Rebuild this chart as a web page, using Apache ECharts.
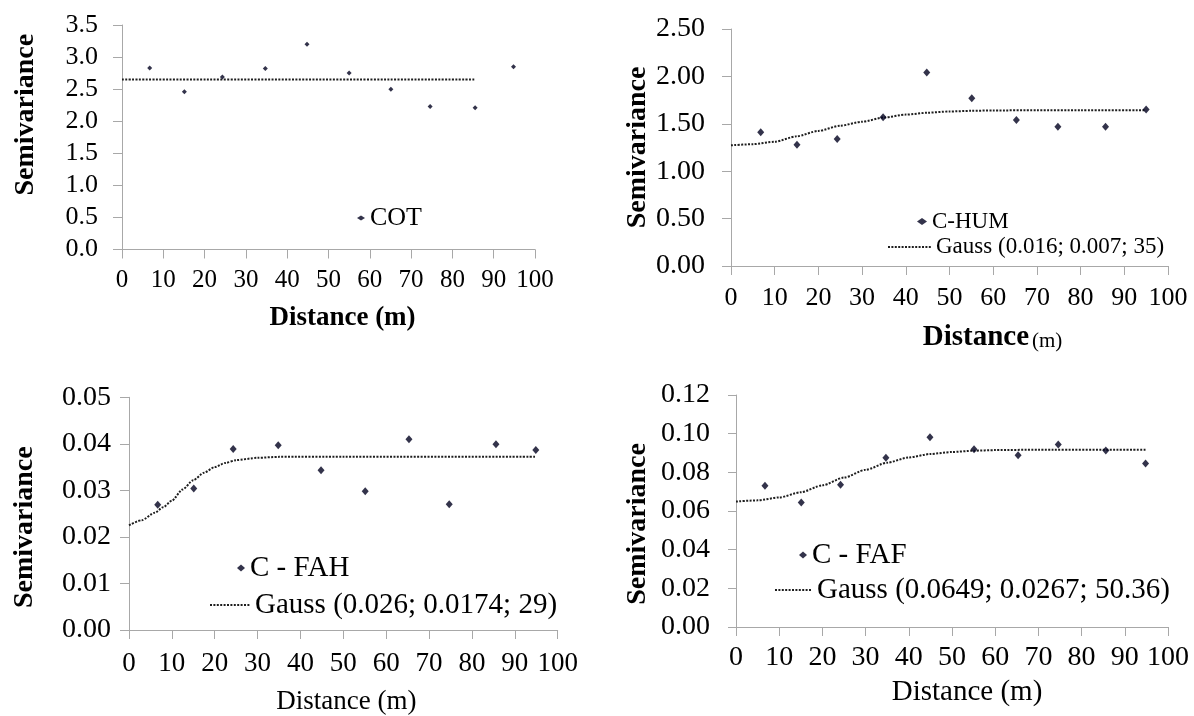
<!DOCTYPE html>
<html><head><meta charset="utf-8">
<script src="https://cdn.jsdelivr.net/npm/echarts@6/dist/echarts.min.js"></script>
<style>html,body{margin:0;padding:0;background:#fff}#c{width:1194px;height:716px}</style>
</head><body><div id="c"></div>
<script>
// ---- data ----
const cotX = [6.7, 15.1, 24.3, 34.7, 44.8, 55.0, 65.1, 74.6, 85.5, 94.8];
const cotY = [2.83, 2.46, 2.69, 2.82, 3.20, 2.75, 2.50, 2.23, 2.21, 2.85];
const cotModelX = [0, 85.3];
const cotModelY = [2.65, 2.65];

const humX = [6.8, 15.1, 24.3, 34.8, 44.8, 55.1, 65.3, 74.8, 85.7, 95.0];
const humY = [1.41, 1.28, 1.34, 1.57, 2.04, 1.77, 1.54, 1.47, 1.47, 1.65];
const humModelX = [0, 5, 10, 15, 20, 25, 30, 35, 40, 45, 50, 55, 60, 70, 80, 95];
const humModelY = [1.273, 1.285, 1.31, 1.368, 1.425, 1.48, 1.522, 1.566, 1.597, 1.617, 1.63, 1.637, 1.641, 1.643, 1.643, 1.643];

const fahX = [6.7, 15.1, 24.3, 34.8, 44.8, 55.1, 65.3, 74.7, 85.6, 94.9];
const fahY = [0.0269, 0.0304, 0.0389, 0.0397, 0.0343, 0.0298, 0.0410, 0.0270, 0.0399, 0.0387];
const fahModelX = [0, 3, 6, 8, 10, 12.5, 15, 17.5, 20, 22.5, 25, 30, 35, 50, 95];
const fahModelY = [0.0225, 0.0236, 0.0252, 0.0264, 0.0278, 0.0302, 0.0322, 0.0338, 0.0350, 0.0359, 0.0365, 0.0370, 0.0372, 0.0372, 0.0372];

const fafX = [6.7, 15.1, 24.2, 34.7, 44.9, 55.1, 65.3, 74.6, 85.6, 94.8];
const fafY = [0.0730, 0.0644, 0.0736, 0.0875, 0.0982, 0.0920, 0.0888, 0.0944, 0.0913, 0.0846];
const fafModelX = [0, 5, 10, 15, 20, 25, 30, 35, 40, 45, 50, 55, 60, 70, 95];
const fafModelY = [0.0649, 0.0655, 0.0670, 0.0697, 0.0733, 0.0773, 0.0813, 0.0850, 0.0877, 0.0895, 0.0905, 0.0912, 0.0915, 0.0917, 0.0917];

const xTickMin = 0, xTickMax = 100, xTickStep = 10;
const yTicks = [ // min, max, step, decimals
  [0, 3.5, 0.5, 1],
  [0, 2.5, 0.5, 2],
  [0, 0.05, 0.01, 2],
  [0, 0.12, 0.02, 2]
];
const scatterNames = ['COT', 'C-HUM', 'C - FAH', 'C - FAF'];
const modelNames = ['Model COT', 'Gauss (0.016; 0.007; 35)', 'Gauss (0.026; 0.0174; 29)', 'Gauss (0.0649; 0.0267; 50.36)'];

// ---- build chart ----
const FONT = '"Liberation Serif","Times New Roman",serif';
const AXIS_COLOR = '#a8a8a8';
const MARK = '#00001e';
const LINE = '#1e1e1e';
const zip = (a, b) => a.map((v, i) => [v, b[i]]);

const grids = [
  {left: 122, top: 25, width: 413, height: 224.5},
  {left: 731, top: 29, width: 437, height: 237},
  {left: 129, top: 397.3, width: 428.7, height: 234},
  {left: 736, top: 395, width: 432, height: 232}
];
const xLab = [{size: 25, margin: 18}, {size: 26, margin: 19}, {size: 27, margin: 20}, {size: 28, margin: 17}];
const yLab = [{size: 26, margin: 24, tick: 9}, {size: 28, margin: 26, tick: 9}, {size: 28, margin: 18, tick: 9}, {size: 28, margin: 26, tick: 8}];
const yNames = [
  {gap: 82, pad: [0, 0, 0, 45]},
  {gap: 79, pad: [0, 0, 0, 0]},
  {gap: 90, pad: [0, 27, 0, 0]},
  {gap: 84, pad: [0, 26, 0, 0]}
];
const xNames = [
  {name: 'Distance (m)', gap: 55, style: {fontSize: 27, fontWeight: 'bold', padding: [0, 0, 0, 28]}},
  {name: '{b|Distance}{r|(m)}', gap: 57, style: {padding: [0, 0, 0, 86], rich: {
    b: {fontSize: 29, fontWeight: 'bold', fontFamily: FONT, color: '#000'},
    r: {fontSize: 21, fontFamily: FONT, color: '#000', padding: [0, 0, 0, 3], verticalAlign: 'bottom'}}}},
  {name: 'Distance (m)', gap: 58, style: {fontSize: 27, padding: [0, 0, 0, 6]}},
  {name: 'Distance (m)', gap: 51, style: {fontSize: 29, padding: [0, 0, 0, 30]}}
];

const xAxis = grids.map((g, i) => ({
  type: 'value', gridIndex: i, min: xTickMin, max: xTickMax, interval: xTickStep,
  name: xNames[i].name, nameLocation: 'middle', nameGap: xNames[i].gap,
  nameTextStyle: Object.assign({fontFamily: FONT, color: '#000'}, xNames[i].style),
  axisLine: {show: true, lineStyle: {color: AXIS_COLOR, width: 1}},
  axisTick: {show: true, length: 9, lineStyle: {color: AXIS_COLOR}},
  axisLabel: {fontFamily: FONT, fontSize: xLab[i].size, color: '#000', margin: xLab[i].margin},
  splitLine: {show: false}
}));
const yAxis = grids.map((g, i) => ({
  type: 'value', gridIndex: i, min: yTicks[i][0], max: yTicks[i][1], interval: yTicks[i][2],
  name: 'Semivariance', nameLocation: 'middle', nameGap: yNames[i].gap,
  nameTextStyle: {fontFamily: FONT, fontSize: 28, fontWeight: 'bold', color: '#000', padding: yNames[i].pad},
  axisLine: {show: true, lineStyle: {color: AXIS_COLOR, width: 1}},
  axisTick: {show: true, length: yLab[i].tick, lineStyle: {color: AXIS_COLOR}},
  axisLabel: {fontFamily: FONT, fontSize: yLab[i].size, color: '#000', margin: yLab[i].margin,
    formatter: v => Number(v).toFixed(yTicks[i][3])},
  splitLine: {show: false}
}));

const pts = [[cotX, cotY], [humX, humY], [fahX, fahY], [fafX, fafY]];
const models = [[cotModelX, cotModelY], [humModelX, humModelY], [fahModelX, fahModelY], [fafModelX, fafModelY]];
const series = [];
pts.forEach((p, i) => {
  series.push({
    name: modelNames[i], type: 'line', xAxisIndex: i, yAxisIndex: i,
    data: zip(models[i][0], models[i][1]), symbol: 'none', showSymbol: false,
    smooth: 0.25, smoothMonotone: 'x', z: 1,
    lineStyle: {color: LINE, width: 2, type: [2, 1.4]}, itemStyle: {color: LINE},
    emphasis: {disabled: true}
  });
  series.push({
    name: scatterNames[i], type: 'scatter', xAxisIndex: i, yAxisIndex: i,
    data: zip(p[0], p[1]), symbol: 'diamond', symbolSize: i === 0 ? [5, 5] : [7, 8], z: 3,
    itemStyle: {color: MARK}, emphasis: {disabled: true}
  });
});

const legTxt = (s) => ({fontFamily: FONT, fontSize: s, color: '#000'});
const hideSym = {color: 'rgba(0,0,0,0)', borderWidth: 0, opacity: 0};
const legend = [
  {data: ['COT'], left: 357, top: 205, itemWidth: 8, itemHeight: 5, textStyle: legTxt(26)},
  {data: ['C-HUM'], left: 917, top: 210, itemWidth: 10, itemHeight: 7, textStyle: legTxt(23)},
  {data: ['Gauss (0.016; 0.007; 35)'], left: 887, top: 235.5, itemWidth: 43, itemHeight: 8, textStyle: legTxt(23), itemStyle: hideSym},
  {data: ['C - FAH'], left: 237, top: 553.5, itemWidth: 8, itemHeight: 7, textStyle: legTxt(29)},
  {data: ['Gauss (0.026; 0.0174; 29)'], left: 209, top: 590.5, itemWidth: 40, itemHeight: 8, textStyle: legTxt(29), itemStyle: hideSym},
  {data: ['C - FAF'], left: 799, top: 540.5, itemWidth: 8, itemHeight: 7, textStyle: legTxt(29)},
  {data: ['Gauss (0.0649; 0.0267; 50.36)'], left: 774, top: 575.5, itemWidth: 37, itemHeight: 8, textStyle: legTxt(29), itemStyle: hideSym}
].map(l => Object.assign({orient: 'vertical', padding: 0, itemGap: 0, selectedMode: false}, l));

const chart = echarts.init(document.getElementById('c'), null, {renderer: 'canvas'});
chart.setOption({
  backgroundColor: '#fff', animation: false,
  grid: grids, xAxis, yAxis, series, legend
});
</script></body></html>
